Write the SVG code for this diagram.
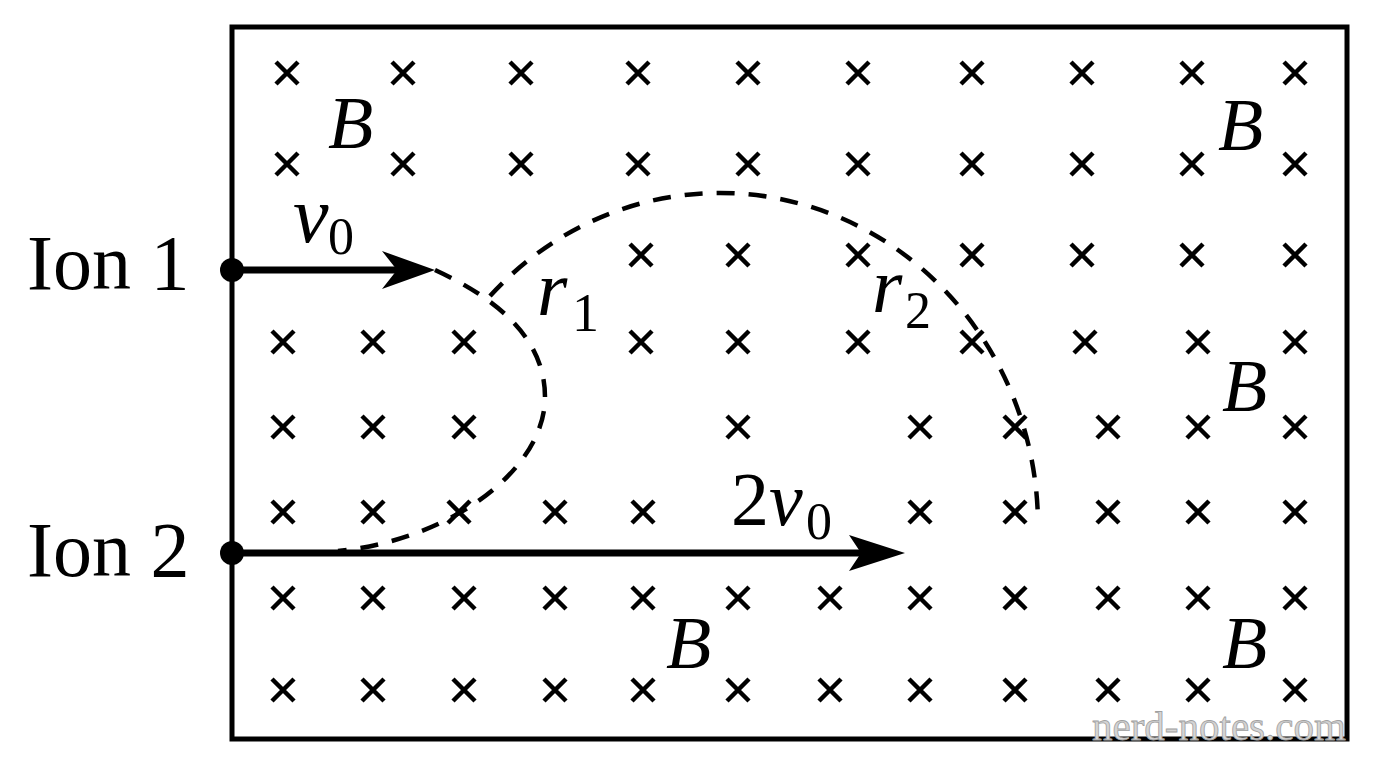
<svg xmlns="http://www.w3.org/2000/svg" xmlns:xlink="http://www.w3.org/1999/xlink" width="1376" height="768" viewBox="0 0 1376 768">
<style>
.t{font-family:"Liberation Serif","Times New Roman","DejaVu Serif",serif;fill:#000}
.i{font-style:italic}
.cross{stroke:#000;stroke-width:4.5;fill:none}
.dash{stroke:#000;stroke-width:4.5;fill:none;stroke-dasharray:18 14}
.shaft{stroke:#000;stroke-width:7;fill:none}
.wm{font-family:"Liberation Serif",serif;font-size:41px;fill:#d4d4d4;stroke:#a0a0a0;stroke-width:0.8}
</style>
<defs>
<path id="x" d="M-11,-11L11,11M11,-11L-11,11"/>
</defs>
<rect width="1376" height="768" fill="#fff"/>
<g id="field">
<rect x="232" y="27" width="1115" height="712" fill="none" stroke="#000" stroke-width="5"/>
<g class="cross">
<use xlink:href="#x" x="287" y="73"/><use xlink:href="#x" x="403" y="73"/><use xlink:href="#x" x="521" y="73"/><use xlink:href="#x" x="638" y="73"/><use xlink:href="#x" x="748" y="73"/><use xlink:href="#x" x="858" y="73"/><use xlink:href="#x" x="972" y="73"/><use xlink:href="#x" x="1082" y="73"/><use xlink:href="#x" x="1192" y="73"/><use xlink:href="#x" x="1295" y="73"/>
<use xlink:href="#x" x="287" y="164"/><use xlink:href="#x" x="403" y="164"/><use xlink:href="#x" x="521" y="164"/><use xlink:href="#x" x="638" y="164"/><use xlink:href="#x" x="748" y="164"/><use xlink:href="#x" x="858" y="164"/><use xlink:href="#x" x="972" y="164"/><use xlink:href="#x" x="1082" y="164"/><use xlink:href="#x" x="1192" y="164"/><use xlink:href="#x" x="1295" y="164"/>
<use xlink:href="#x" x="641" y="255"/><use xlink:href="#x" x="738" y="255"/><use xlink:href="#x" x="858" y="255"/><use xlink:href="#x" x="972" y="255"/><use xlink:href="#x" x="1082" y="255"/><use xlink:href="#x" x="1192" y="255"/><use xlink:href="#x" x="1295" y="255"/>
<use xlink:href="#x" x="283" y="342"/><use xlink:href="#x" x="373" y="342"/><use xlink:href="#x" x="464" y="342"/><use xlink:href="#x" x="641" y="342"/><use xlink:href="#x" x="738" y="342"/><use xlink:href="#x" x="858" y="342"/><use xlink:href="#x" x="972" y="342"/><use xlink:href="#x" x="1085" y="342"/><use xlink:href="#x" x="1198" y="342"/><use xlink:href="#x" x="1295" y="342"/>
<use xlink:href="#x" x="283" y="427"/><use xlink:href="#x" x="373" y="427"/><use xlink:href="#x" x="464" y="427"/><use xlink:href="#x" x="738" y="427"/><use xlink:href="#x" x="920" y="427"/><use xlink:href="#x" x="1015" y="427"/><use xlink:href="#x" x="1108" y="427"/><use xlink:href="#x" x="1198" y="427"/><use xlink:href="#x" x="1295" y="427"/>
<use xlink:href="#x" x="283" y="512"/><use xlink:href="#x" x="373" y="512"/><use xlink:href="#x" x="459" y="512"/><use xlink:href="#x" x="555" y="512"/><use xlink:href="#x" x="643" y="512"/><use xlink:href="#x" x="920" y="512"/><use xlink:href="#x" x="1015" y="512"/><use xlink:href="#x" x="1108" y="512"/><use xlink:href="#x" x="1198" y="512"/><use xlink:href="#x" x="1295" y="512"/>
<use xlink:href="#x" x="283" y="598"/><use xlink:href="#x" x="373" y="598"/><use xlink:href="#x" x="464" y="598"/><use xlink:href="#x" x="555" y="598"/><use xlink:href="#x" x="643" y="598"/><use xlink:href="#x" x="738" y="598"/><use xlink:href="#x" x="830" y="598"/><use xlink:href="#x" x="920" y="598"/><use xlink:href="#x" x="1015" y="598"/><use xlink:href="#x" x="1108" y="598"/><use xlink:href="#x" x="1198" y="598"/><use xlink:href="#x" x="1295" y="598"/>
<use xlink:href="#x" x="283" y="690"/><use xlink:href="#x" x="373" y="690"/><use xlink:href="#x" x="464" y="690"/><use xlink:href="#x" x="555" y="690"/><use xlink:href="#x" x="643" y="690"/><use xlink:href="#x" x="738" y="690"/><use xlink:href="#x" x="830" y="690"/><use xlink:href="#x" x="920" y="690"/><use xlink:href="#x" x="1015" y="690"/><use xlink:href="#x" x="1108" y="690"/><use xlink:href="#x" x="1198" y="690"/><use xlink:href="#x" x="1295" y="690"/>
</g>
<g class="t i" font-size="74">
<text x="328" y="148">B</text>
<text x="1218" y="150">B</text>
<text x="1222" y="411">B</text>
<text x="666" y="668">B</text>
<text x="1222" y="668">B</text>
</g>
</g>
<g id="connectors">
<path class="dash" d="M435,270 C500,300 545,340 545,397 C545,470 450,540 338,551"/>
<path class="dash" d="M490,296 A318,333 0 0 1 1038,523"/>
<line class="shaft" x1="232" y1="270" x2="400" y2="270"/>
<path d="M435,270 L382,251 L397,270 L382,289 Z" fill="#000"/>
<line class="shaft" x1="232" y1="553" x2="865" y2="553"/>
<path d="M905,553 L849,535 L861,553 L849,571 Z" fill="#000"/>
</g>
<g id="ion1">
<circle cx="232" cy="270" r="12" fill="#000"/>
<text class="t" x="27" y="289" font-size="78">Ion 1</text>
</g>
<g id="ion2">
<circle cx="232" cy="553" r="12" fill="#000"/>
<text class="t" x="27" y="576" font-size="78">Ion 2</text>
</g>
<g id="label-v0"><text class="t" font-size="80" x="293" y="242"><tspan class="i">v</tspan><tspan x="328" y="254" font-size="52">0</tspan></text></g>
<g id="label-2v0"><text class="t" font-size="76" x="731" y="525">2<tspan class="i">v</tspan><tspan x="806" y="539" font-size="52">0</tspan></text></g>
<g id="label-r1"><text class="t" font-size="78" x="537" y="315"><tspan class="i">r</tspan><tspan x="572" y="331" font-size="54">1</tspan></text></g>
<g id="label-r2"><text class="t" font-size="78" x="872" y="312"><tspan class="i">r</tspan><tspan x="905" y="328" font-size="52">2</tspan></text></g>
<text class="wm" x="1092" y="740">nerd-notes.com</text>
</svg>
